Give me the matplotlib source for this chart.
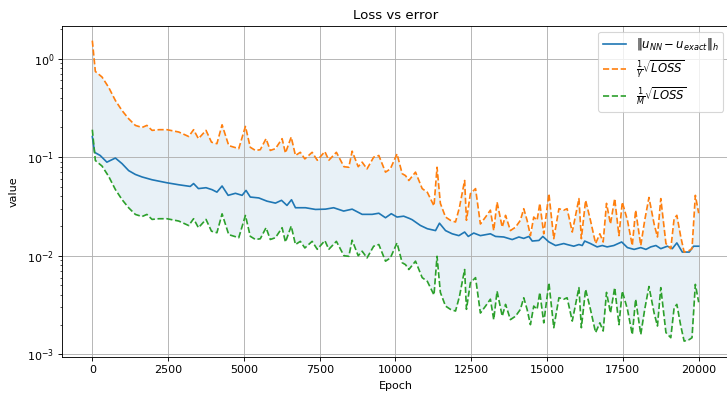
import numpy as np
import matplotlib
matplotlib.use('Agg')
from matplotlib import pyplot as plt

# epochs / values
err_epochs = [0, 75, 260, 480, 760, 980, 1200, 1420, 1640, 1970, 2460, 2850, 3230, 3340,
              3500, 3750, 3950, 4110, 4280, 4480, 4720, 4940, 5070, 5210, 5490, 5760,
              6040, 6240, 6420, 6570, 6700, 7030, 7360, 7690, 7960, 8290, 8570, 8900,
              9230, 9450, 9670, 9860, 10050, 10270, 10460, 10550, 10820, 11050, 11320,
              11450, 11650, 11870, 12090, 12280, 12400, 12580, 12800, 13130, 13300,
              13570, 13850, 14070, 14230, 14400, 14510, 14730, 14860, 15060, 15280,
              15550, 15660, 15880, 16050, 16160, 16240, 16430, 16650, 16820, 16980,
              17200, 17460, 17650, 17870, 18090, 18260, 18420, 18590, 18750, 18970,
              19130, 19280, 19460, 19690, 19830, 20000]
err_values = [0.162, 0.112, 0.104, 0.089, 0.098, 0.086, 0.073, 0.0668, 0.063, 0.059, 0.055,
              0.0525, 0.0505, 0.054, 0.048, 0.049, 0.0468, 0.0442, 0.051, 0.041, 0.043,
              0.041, 0.046, 0.0394, 0.0386, 0.0358, 0.0342, 0.0365, 0.0324, 0.037, 0.0307,
              0.0307, 0.0295, 0.0297, 0.0307, 0.0284, 0.0297, 0.0263, 0.0263, 0.027,
              0.0243, 0.0267, 0.0247, 0.0252, 0.0239, 0.0232, 0.0203, 0.0188, 0.018,
              0.0214, 0.018, 0.0167, 0.016, 0.0174, 0.0157, 0.017, 0.016, 0.0167, 0.0157,
              0.0155, 0.0146, 0.0155, 0.015, 0.0157, 0.0141, 0.0143, 0.0157, 0.0138,
              0.0127, 0.0133, 0.013, 0.0125, 0.013, 0.0127, 0.0141, 0.0133, 0.0123,
              0.0127, 0.0123, 0.0127, 0.0138, 0.0121, 0.0116, 0.0121, 0.0116, 0.0123,
              0.0127, 0.0118, 0.0125, 0.0118, 0.0135, 0.0109, 0.0109, 0.0125, 0.0125]

loss_epochs = [0, 100, 320, 540, 760, 980, 1200, 1420, 1640, 1800, 1970, 2200, 2460, 2850,
               3180, 3340, 3500, 3750, 3930, 4110, 4280, 4500, 4830, 5050, 5210, 5380,
               5540, 5730, 5870, 6040, 6260, 6370, 6560, 6700, 6860, 7010, 7250, 7420,
               7670, 7800, 8050, 8300, 8460, 8570, 8770, 8900, 9060, 9280, 9450, 9670,
               9830, 10050, 10220, 10330, 10440, 10660, 10880, 11050, 11270, 11370,
               11480, 11650, 11810, 11980, 12110, 12280, 12340, 12470, 12640, 12800,
               12970, 13130, 13240, 13350, 13520, 13630, 13790, 13960, 14120, 14230,
               14340, 14450, 14560, 14670, 14760, 14890, 15060, 15220, 15390, 15550,
               15660, 15830, 16050, 16130, 16270, 16430, 16600, 16740, 16850, 16960,
               17090, 17230, 17370, 17480, 17650, 17810, 17920, 18090, 18220, 18360,
               18530, 18640, 18750, 18920, 19080, 19190, 19280, 19410, 19520, 19690,
               19780, 19890, 20000]
# upper bound 1/gamma * sqrt(LOSS)
upper_values = [1.52, 0.74, 0.65, 0.51, 0.376, 0.297, 0.245, 0.21, 0.2, 0.21, 0.187, 0.19,
                0.19, 0.18, 0.162, 0.19, 0.154, 0.187, 0.142, 0.137, 0.213, 0.131, 0.122,
                0.205, 0.126, 0.117, 0.119, 0.154, 0.117, 0.122, 0.154, 0.11, 0.16, 0.104,
                0.112, 0.096, 0.112, 0.093, 0.114, 0.093, 0.112, 0.08, 0.079, 0.115, 0.08,
                0.089, 0.076, 0.1, 0.104, 0.0705, 0.076, 0.108, 0.068, 0.065, 0.058,
                0.0705, 0.048, 0.044, 0.032, 0.079, 0.034, 0.0247, 0.0229, 0.022, 0.031,
                0.058, 0.0229, 0.0426, 0.048, 0.021, 0.0247, 0.029, 0.018, 0.035, 0.0195,
                0.0257, 0.018, 0.0195, 0.0229, 0.03, 0.0229, 0.016, 0.0247, 0.0229, 0.034,
                0.0167, 0.0426, 0.0149, 0.03, 0.029, 0.03, 0.0174, 0.038, 0.0149, 0.0365,
                0.0229, 0.0133, 0.0167, 0.0138, 0.034, 0.021, 0.038, 0.016, 0.035, 0.0229,
                0.0127, 0.029, 0.0127, 0.0229, 0.039, 0.021, 0.0155, 0.038, 0.0133, 0.0118,
                0.0238, 0.0257, 0.0155, 0.0109, 0.0113, 0.0118, 0.041, 0.027]
# ratio M / gamma between the two bounds
bound_ratio = 8.0

upper = np.array(upper_values)
lower = upper / bound_ratio

fig = plt.figure(figsize=(727 / 80, 393 / 80), dpi=80)
ax = fig.add_axes([62 / 727, 36 / 393, 667 / 727, 331 / 393])

ax.plot(err_epochs, err_values, color='C0', label=r'$\|u_{NN} - u_{exact}\|_h$')
ax.plot(loss_epochs, upper, '--', color='C1', label=r'$\frac{1}{\gamma}\sqrt{LOSS}$')
ax.plot(loss_epochs, lower, '--', color='C2', label=r'$\frac{1}{M}\sqrt{LOSS}$')
ax.fill_between(loss_epochs, lower, upper, color='C0', alpha=0.1, linewidth=0)

ax.set_yscale('log')
ax.set_xlim(-1000, 21000)
ax.set_ylim(0.00094, 2.14)
ax.set_title('Loss vs error')
ax.set_xlabel('Epoch', labelpad=6)
ax.set_ylabel('value', labelpad=8)
ax.grid()
ax.legend(loc='upper right', fontsize=10.5)

fig.savefig('out.png', dpi=80)
